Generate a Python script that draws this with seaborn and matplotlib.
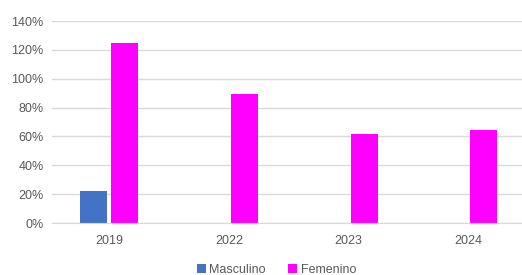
import numpy as np
import pandas as pd
import seaborn as sns
import matplotlib.pyplot as plt
from matplotlib.ticker import PercentFormatter

years = ["2019", "2022", "2023", "2024"]
masculino = [22.2, np.nan, np.nan, np.nan]
femenino = [124.8, 89.2, 61.5, 64.5]
series = ["Masculino", "Femenino"]
colors = ["#4472C4", "#FF00FF"]

df = pd.DataFrame({
    "year": years * 2,
    "value": masculino + femenino,
    "sexo": [series[0]] * 4 + [series[1]] * 4,
})

sns.set_style("white")
plt.rcParams["font.family"] = ["Liberation Sans", "DejaVu Sans"]

fig = plt.figure(figsize=(5.22, 2.75), dpi=100)
ax = fig.add_axes([52 / 522, 1 - 223 / 275, 1 - 52 / 522, 202 / 275])

sns.barplot(data=df, x="year", y="value", hue="sexo", hue_order=series,
            palette=colors, width=0.52, gap=0.13, saturation=1,
            edgecolor="none", ax=ax, legend=True)

ax.set_ylim(0, 140)
ax.set_xlim(-0.48, 3.45)
ax.set_yticks(range(0, 141, 20))
ax.yaxis.set_major_formatter(PercentFormatter(decimals=0))
ax.grid(axis="y", color="#d9d9d9", linewidth=1)
ax.set_axisbelow(True)
for s in ["top", "right", "left"]:
    ax.spines[s].set_visible(False)
ax.spines["bottom"].set_color("#d9d9d9")
ax.tick_params(axis="y", length=0, labelsize=9, colors="#595959", pad=6)
ax.tick_params(axis="x", length=0, labelsize=9, colors="#595959", pad=9)
ax.set_xlabel("")
ax.set_ylabel("")

handles, labels = ax.get_legend_handles_labels()
ax.get_legend().remove()
fig.legend(handles, labels, loc="lower center", bbox_to_anchor=(0.53, -0.045),
           ncol=2, frameon=False, fontsize=9, handlelength=0.7,
           handleheight=0.7, handletextpad=0.3, columnspacing=1.8,
           labelcolor="#595959")

fig.savefig("out.png", dpi=100)
